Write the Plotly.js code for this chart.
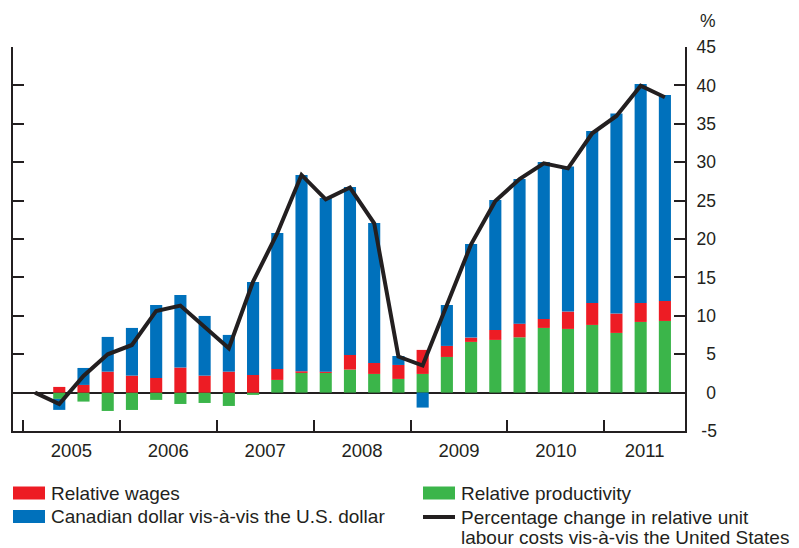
<!DOCTYPE html>
<html>
<head>
<meta charset="utf-8">
<script src="https://cdn.plot.ly/plotly-3.0.1.min.js"></script>
<style>
  html, body { margin: 0; padding: 0; background: #fff; }
  #chart { width: 799px; height: 548px; }
</style>
</head>
<body>
<div id="chart"></div>
<script>
// quarters, 2005Q1 is the base period (line = 0, no bars)
const quarters = ['2005Q1','2005Q2','2005Q3','2005Q4','2006Q1','2006Q2','2006Q3','2006Q4',
    '2007Q1','2007Q2','2007Q3','2007Q4','2008Q1','2008Q2','2008Q3','2008Q4',
    '2009Q1','2009Q2','2009Q3','2009Q4','2010Q1','2010Q2','2010Q3','2010Q4',
    '2011Q1','2011Q2','2011Q3'];
const years = ['2005','2006','2007','2008','2009','2010','2011'];

const relProductivity = [null, -0.82, -1.17, -2.39, -2.26, -0.95, -1.48, -1.35,
    -1.74, -0.30, 1.65, 2.56, 2.56, 3.00, 2.43, 1.78,
    2.43, 4.64, 6.60, 6.86, 7.20, 8.42, 8.29, 8.81,
    7.77, 9.20, 9.33];
const relWages = [null, 0.74, 1.00, 2.73, 2.21, 1.91, 3.26, 2.21,
    2.73, 2.30, 1.43, 0.22, 0.17, 1.90, 1.43, 1.82,
    3.13, 1.44, 0.56, 1.30, 1.78, 1.17, 2.26, 2.87,
    2.52, 2.48, 2.61];
const cadUsd = [null, -1.43, 2.21, 4.52, 6.21, 9.50, 9.46, 7.77,
    4.78, 12.11, 17.71, 25.56, 22.62, 21.88, 18.23, 1.17,
    -1.95, 5.33, 12.20, 16.93, 18.84, 20.44, 18.88, 22.39,
    26.04, 28.51, 26.82];
const ulcChange = [0, -1.5, 2.17, 4.99, 6.20, 10.63, 11.33, 8.60,
    5.77, 14.45, 20.75, 28.34, 25.17, 26.70, 22.05, 4.69,
    3.52, 11.40, 19.30, 24.96, 27.80, 29.86, 29.20, 33.77,
    36.02, 39.97, 38.45];

const yTicks = [-5, 0, 5, 10, 15, 20, 25, 30, 35, 40, 45];
// right-aligned look: pad short labels with spaces (2 spaces = 1 digit)
const yTickText = ['\u00a0-5', '\u00a0\u00a00', '\u00a0\u00a05', '10', '15', '20', '25', '30', '35', '40', '45'];

const names = {
    wages: 'Relative wages',
    prod: 'Relative productivity',
    cad: 'Canadian dollar vis-à-vis the U.S. dollar',
    ulc: 'Percentage change in relative unit<br>labour costs vis-à-vis the United States'
};
const colors = { wages: '#ED1C24', prod: '#3BB54A', cad: '#0071BC', ulc: '#231F20' };

// layout helpers (pixel -> paper)
const W = 799, H = 548;
const M = { l: 13, r: 114, t: 47, b: 117 };
const plotW = W - M.l - M.r, plotH = H - M.t - M.b;
const px = x => (x - M.l) / plotW;
const py = y => (H - M.b - y) / plotH;

const idx = quarters.map((q, i) => i);
const xRange = [-0.91, 26.83];
const yearBounds = years.map((y, k) => k * 4 - 0.5);
const yearCenters = years.map((y, k) => Math.min(k * 4 + 1.5, (k * 4 - 0.5 + xRange[1]) / 2));

const ink = '#231F20';
const font = 'Liberation Sans, Arial, sans-serif';
const legendSize = 19;

function bar(key, vals) {
    return {
        type: 'bar', x: idx, y: vals, name: names[key],
        marker: { color: colors[key], line: { width: 0 } },
        width: 0.5, showlegend: false, hoverinfo: 'skip'
    };
}

const data = [
    bar('prod', relProductivity),
    bar('wages', relWages),
    bar('cad', cadUsd),
    {
        type: 'scatter', mode: 'lines', x: idx, y: ulcChange, name: names.ulc,
        line: { color: colors.ulc, width: 4 }, showlegend: false, hoverinfo: 'skip'
    }
];

// hand-built legend: swatches + labels
const legendItems = [
    { key: 'wages', x: 13, y: 493 },
    { key: 'cad', x: 13, y: 516.5 },
    { key: 'prod', x: 423, y: 493 },
    { key: 'ulc', x: 423, y: 517 }
];
const shapes = [];
const annotations = [];
legendItems.forEach(it => {
    if (it.key === 'ulc') {
        shapes.push({ type: 'line', xref: 'paper', yref: 'paper',
            x0: px(it.x), x1: px(it.x + 32), y0: py(it.y), y1: py(it.y),
            line: { color: colors[it.key], width: 4 } });
    } else {
        shapes.push({ type: 'rect', xref: 'paper', yref: 'paper',
            x0: px(it.x), x1: px(it.x + 32), y0: py(it.y - 6.5), y1: py(it.y + 6.5),
            fillcolor: colors[it.key], line: { width: 0 } });
    }
    names[it.key].split('<br>').forEach((line, j) => {
        annotations.push({ xref: 'paper', yref: 'paper', x: px(it.x + 36), y: py(it.y + j * 20),
            xanchor: 'left', yanchor: 'middle', showarrow: false,
            text: line, font: { size: legendSize, color: ink } });
    });
});
annotations.push({ xref: 'paper', yref: 'paper', x: px(708), y: py(21),
    xanchor: 'center', yanchor: 'middle', showarrow: false, text: '%',
    font: { size: 17.5, color: ink } });

const layout = {
    width: W, height: H,
    margin: M,
    paper_bgcolor: '#fff', plot_bgcolor: 'rgba(0,0,0,0)',
    font: { family: font, color: ink },
    barmode: 'relative',
    showlegend: false,
    xaxis: {
        range: xRange, anchor: 'y',
        tickmode: 'array', tickvals: yearCenters, ticktext: years,
        ticks: '', tickfont: { size: 18.5, color: ink }, ticklabelstandoff: 2,
        minor: { tickmode: 'array', tickvals: yearBounds, ticks: 'inside',
            ticklen: 11, tickwidth: 2, tickcolor: ink, showgrid: false },
        showline: true, linecolor: ink, linewidth: 2,
        showgrid: false, zeroline: false, fixedrange: true
    },
    yaxis: {
        range: [-5, 45], side: 'right', anchor: 'x',
        tickmode: 'array', tickvals: yTicks, ticktext: yTickText,
        tickfont: { size: 17.5, color: ink }, ticklabelstandoff: 6,
        ticks: 'inside', ticklen: 11, tickwidth: 2, tickcolor: ink,
        showline: true, linecolor: ink, linewidth: 2, mirror: 'ticks',
        showgrid: false, zeroline: true, zerolinecolor: ink, zerolinewidth: 2,
        fixedrange: true
    },
    shapes: shapes,
    annotations: annotations
};

Plotly.newPlot('chart', data, layout, { displayModeBar: false, staticPlot: true });
</script>
</body>
</html>
